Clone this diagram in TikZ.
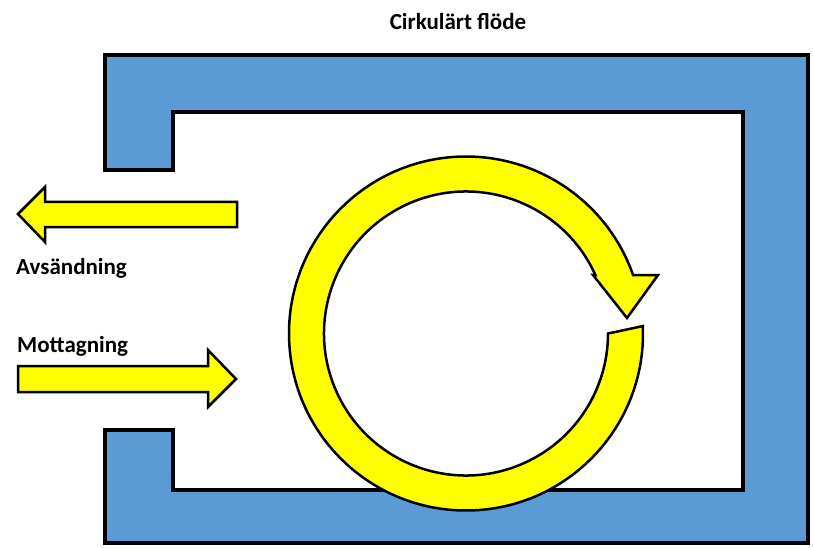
\documentclass[tikz,border=0pt]{standalone}
\usepackage{fontspec}
\usetikzlibrary{calc}
\setmainfont{Carlito}
\definecolor{frameblue}{RGB}{91,155,213}
\definecolor{arrowyellow}{RGB}{255,255,0}
\begin{document}
\begin{tikzpicture}[x=1pt,y=1pt,
  wall/.style={draw=black,line width=4.5pt,fill=frameblue,line join=miter},
  yarrow/.style={draw=black,line width=2.5pt,fill=arrowyellow,line join=miter},
  lbl/.style={font=\bfseries\fontsize{23}{26}\selectfont,inner sep=0pt}]
\useasboundingbox (0,0) rectangle (813,547);
\path[wall] (105,377) -- (105,492) -- (808,492) -- (808,4) -- (105,4) -- (105,117)
  -- (173,117) -- (173,57) -- (743,57) -- (743,435) -- (173,435) -- (173,377) -- cycle;
% left arrow
\path[yarrow] (237,345) -- (45,345) -- (45,360) -- (18,333) -- (45,305) -- (45,320) -- (237,320) -- cycle;
% right arrow
\path[yarrow] (18,181) -- (208,181) -- (208,197) -- (236,168) -- (208,140) -- (208,155) -- (18,155) -- cycle;
% circular arrow
\coordinate (c) at (466,213.5);
\path[yarrow] ($(c)+(2.4:177)$) arc[start angle=2.4,end angle=-340.7,radius=177]
  -- (658,272) -- (627,229) -- (593,272)
  -- ($(c)+(-335.7:142)$) arc[start angle=-335.7,end angle=0,radius=142] -- cycle;
\node[lbl] (t) at (458,525) {Cirkulärt flöde};
\node[lbl,anchor=west] (a) at (16,279) {Avsändning};
\node[lbl,anchor=west] (m) at (17,201) {Mottagning};
\end{tikzpicture}
\end{document}
